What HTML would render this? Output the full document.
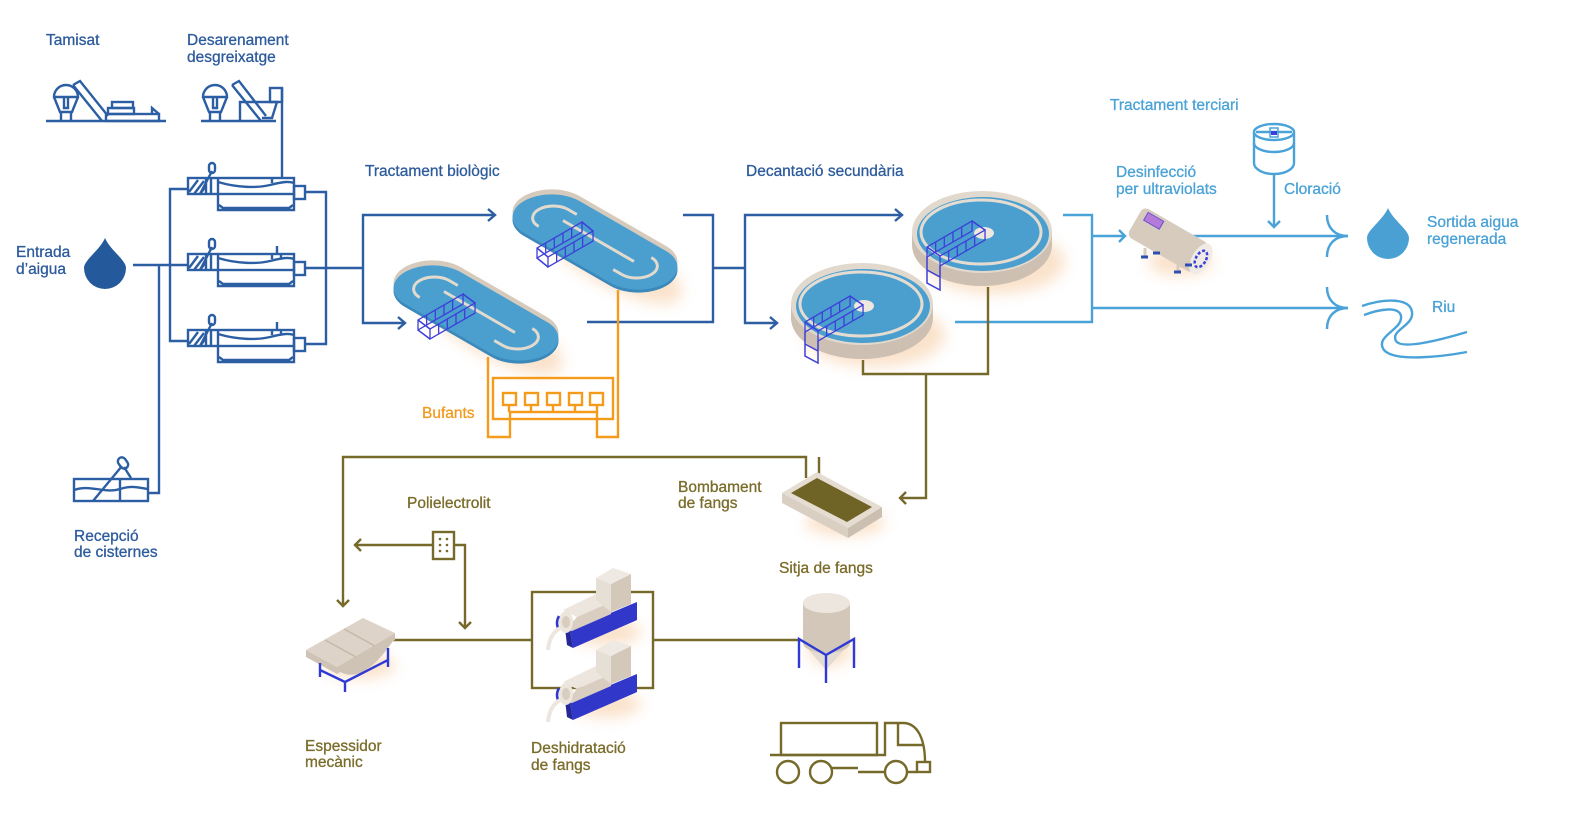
<!DOCTYPE html>
<html><head><meta charset="utf-8"><style>
html,body{margin:0;padding:0;background:#fff;}
svg{display:block;}
text{font-family:"Liberation Sans",sans-serif;font-size:15.5px;stroke-width:0.3px;}
</style></head><body>
<svg width="1575" height="819" viewBox="0 0 1575 819" xmlns="http://www.w3.org/2000/svg">
<defs>
<filter id="blur" x="-50%" y="-50%" width="200%" height="200%"><feGaussianBlur stdDeviation="7"/></filter>
</defs>
<rect width="1575" height="819" fill="#fff"/>

<!-- glows -->
<g filter="url(#blur)" fill="#f7cba0" opacity="0.55">
<ellipse cx="0" cy="0" rx="85" ry="28" transform="translate(607,255) rotate(30)"/>
<ellipse cx="0" cy="0" rx="85" ry="28" transform="translate(488,326) rotate(30)"/>
<ellipse cx="995" cy="262" rx="70" ry="32"/>
<ellipse cx="875" cy="335" rx="70" ry="32"/>
<ellipse cx="1180" cy="262" rx="32" ry="14"/>
<ellipse cx="845" cy="522" rx="40" ry="14"/>
<ellipse cx="606" cy="632" rx="35" ry="14"/>
<ellipse cx="606" cy="704" rx="35" ry="14"/>
<ellipse cx="360" cy="665" rx="35" ry="14"/>
<ellipse cx="830" cy="650" rx="22" ry="16"/>
</g>

<!-- ============ NAVY (pretreatment) ============ -->
<g fill="none" stroke="#2c5ea3" stroke-width="2.4">
<line x1="46" y1="121" x2="166" y2="121"/>
<path d="M54,97 A12,12 0 0 1 78,97 Z"/>
<path d="M54,97 L60,112 H72 L78,97"/>
<path d="M61,112 V121 M71,112 V121"/>
<path d="M64,97 V108 H68 V97"/>
<path d="M73,85 L80,81 L108,116 M73,85 L102,121"/>
<rect x="112" y="102" width="21" height="6"/>
<rect x="108" y="108" width="26" height="6"/>
<rect x="106" y="114" width="53" height="7"/>
<path d="M152,114 V108 L159,114"/>
<line x1="201" y1="121" x2="276" y2="121"/>
<path d="M203,97 A12,12 0 0 1 227,97 Z"/>
<path d="M203,97 L209,112 H221 L227,97"/>
<path d="M210,112 V121 M220,112 V121"/>
<path d="M213,97 V108 H217 V97"/>
<path d="M232,85 L239,81 L266,116 M232,85 L261,121"/>
<path d="M240,121 V102 H277 L272,118 H262"/>
<rect x="270" y="88" width="12" height="14"/>
<path d="M282,88 V178"/>

<g transform="translate(188,178)">
<rect x="0" y="0" width="106" height="16"/>
<path d="M30,16 V32 H106 V16"/>
<path d="M31,27 L35,30 H101 L105,27"/>
<path d="M18,0 V16 M23,0 V16 M30,0 V16"/>
<path d="M1,14 L10,2 M6,16 L16,3 M12,16 L18,8"/>
<path d="M12,16 L24,-7"/>
<rect x="21" y="-15" width="6" height="10" rx="3"/>
<path d="M30,4 C50,10 70,10 82,7 S100,3 106,5"/>
<path d="M84,0 V5"/>
<rect x="106" y="8" width="11" height="13"/>
</g>
<g transform="translate(188,254)">
<rect x="0" y="0" width="106" height="16"/>
<path d="M30,16 V32 H106 V16"/>
<path d="M31,27 L35,30 H101 L105,27"/>
<path d="M18,0 V16 M23,0 V16 M30,0 V16"/>
<path d="M1,14 L10,2 M6,16 L16,3 M12,16 L18,8"/>
<path d="M12,16 L24,-7"/>
<rect x="21" y="-15" width="6" height="10" rx="3"/>
<path d="M30,4 C50,10 70,10 82,7 S100,3 106,5"/>
<path d="M84,0 V5 M89,0 V-8 M93,0 V5"/>
<rect x="106" y="8" width="11" height="13"/>
</g>
<g transform="translate(188,330)">
<rect x="0" y="0" width="106" height="16"/>
<path d="M30,16 V32 H106 V16"/>
<path d="M31,27 L35,30 H101 L105,27"/>
<path d="M18,0 V16 M23,0 V16 M30,0 V16"/>
<path d="M1,14 L10,2 M6,16 L16,3 M12,16 L18,8"/>
<path d="M12,16 L24,-7"/>
<rect x="21" y="-15" width="6" height="10" rx="3"/>
<path d="M30,4 C50,10 70,10 82,7 S100,3 106,5"/>
<path d="M84,0 V5 M89,0 V-8 M93,0 V5"/>
<rect x="106" y="8" width="11" height="13"/>
</g>

<path d="M188,189 H170 V341 H188"/>
<path d="M133,265 H188"/>
<path d="M148,493 H159 V265"/>
<path d="M305,192 H326 V344 H305"/>
<path d="M305,268 H363"/>

<rect x="74" y="479" width="74" height="22"/>
<path d="M120,479 V501"/>
<path d="M74,490 C90,484 105,494 120,489 C132,485 140,488 148,489"/>
<path d="M93,501 L122,466"/>
<rect x="119" y="457" width="8" height="12" rx="4" transform="rotate(-35 123 463)"/>
<path d="M124,467 L131,478"/>

<path d="M495,215 H363 V323 H405"/>
<path d="M488,209 L495,215 L488,221"/>
<path d="M398,317 L405,323 L398,329"/>
<path d="M683,215 H713 V322 H587"/>
<path d="M713,268 H745"/>
<path d="M902,215 H745 V323 H777"/>
<path d="M895,209 L902,215 L895,221"/>
<path d="M770,317 L777,323 L770,329"/>
</g>

<path d="M105,238 C100,250 84,260 84,268 A21,21 0 0 0 126,268 C126,260 110,250 105,238 Z" fill="#245a9c"/>

<!-- ============ BIO TANKS ============ -->
<g transform="translate(595,237)">
<g transform="matrix(0.866,0.5,-0.866,0.5,0,0)"><rect x="-82" y="-32" width="164" height="64" rx="32" fill="#d6cabd"/></g>
</g>
<g transform="translate(595,245)">
<g transform="matrix(0.866,0.5,-0.866,0.5,0,0)"><rect x="-82" y="-32" width="164" height="64" rx="32" fill="#3b88bb"/></g>
</g>
<g transform="translate(595,242)">
<g transform="matrix(0.866,0.5,-0.866,0.5,0,0)">
<rect x="-82" y="-32" width="164" height="64" rx="32" fill="#4a9fcf"/>
<g fill="none" stroke="#e3dace" stroke-width="3">
<path d="M-38,-17 H-48 A17,17 0 0 0 -48,17" vector-effect="non-scaling-stroke"/>
<path d="M38,17 H48 A17,17 0 0 0 48,-17" vector-effect="non-scaling-stroke"/>
<path d="M-40,-3 H42" vector-effect="non-scaling-stroke"/>
</g>
</g>
</g>

<g transform="translate(476,308)">
<g transform="matrix(0.866,0.5,-0.866,0.5,0,0)"><rect x="-82" y="-32" width="164" height="64" rx="32" fill="#d6cabd"/></g>
</g>
<g transform="translate(476,316)">
<g transform="matrix(0.866,0.5,-0.866,0.5,0,0)"><rect x="-82" y="-32" width="164" height="64" rx="32" fill="#3b88bb"/></g>
</g>
<g transform="translate(476,313)">
<g transform="matrix(0.866,0.5,-0.866,0.5,0,0)">
<rect x="-82" y="-32" width="164" height="64" rx="32" fill="#4a9fcf"/>
<g fill="none" stroke="#e3dace" stroke-width="3">
<path d="M-38,-17 H-48 A17,17 0 0 0 -48,17" vector-effect="non-scaling-stroke"/>
<path d="M38,17 H48 A17,17 0 0 0 48,-17" vector-effect="non-scaling-stroke"/>
<path d="M-40,-3 H42" vector-effect="non-scaling-stroke"/>
</g>
</g>
</g>

<g fill="none" stroke="#3d3fd9" stroke-width="1.5">
<g transform="matrix(0.866,-0.5,0,1,537,248)"><rect x="0" y="0" width="52" height="10"/><path d="M10,0V10M20,0V10M30,0V10M40,0V10"/></g>
<g transform="matrix(0.866,-0.5,0,1,548,257)"><rect x="0" y="0" width="52" height="10"/><path d="M10,0V10M20,0V10M30,0V10M40,0V10"/></g>
<path d="M537,248 L548,257 M537,258 L548,267 M582,222 L593,231"/>
<g transform="matrix(0.866,-0.5,0,1,418,320)"><rect x="0" y="0" width="52" height="10"/><path d="M10,0V10M20,0V10M30,0V10M40,0V10"/></g>
<g transform="matrix(0.866,-0.5,0,1,430,329)"><rect x="0" y="0" width="52" height="10"/><path d="M10,0V10M20,0V10M30,0V10M40,0V10"/></g>
<path d="M418,320 L430,329 M418,330 L430,339 M463,294 L475,303"/>
</g>

<!-- ============ DECANTERS ============ -->
<path d="M912,232 V245 A70,41 0 0 0 1052,245 V232 Z" fill="#cdbfb1"/>
<ellipse cx="982" cy="232" rx="70" ry="41" fill="#e2d9ce"/>
<ellipse cx="983" cy="234" rx="66" ry="37" fill="#4a9fcf"/>
<ellipse cx="981" cy="232" rx="60" ry="32" fill="none" stroke="#e5dcd1" stroke-width="3"/>
<ellipse cx="984" cy="233" rx="10" ry="6" fill="#eee8e1"/>

<path d="M791,304 V318 A71,41 0 0 0 933,318 V304 Z" fill="#cdbfb1"/>
<ellipse cx="862" cy="304" rx="71" ry="41" fill="#e2d9ce"/>
<ellipse cx="863" cy="306" rx="67" ry="37" fill="#4a9fcf"/>
<ellipse cx="861" cy="304" rx="61" ry="32" fill="none" stroke="#e5dcd1" stroke-width="3"/>
<ellipse cx="864" cy="306" rx="10" ry="6" fill="#eee8e1"/>

<g fill="none" stroke="#3d3fd9" stroke-width="1.5">
<g transform="matrix(0.866,-0.5,0,1,927,247)"><rect x="0" y="0" width="52" height="10"/><path d="M10,0V10M20,0V10M30,0V10M40,0V10"/></g>
<g transform="matrix(0.866,-0.5,0,1,940,256)"><rect x="0" y="0" width="52" height="10"/><path d="M10,0V10M20,0V10M30,0V10M40,0V10"/></g>
<path d="M927,247 L940,256 M972,221 L985,230"/>
<path d="M927,257 V283 L940,290 V266 M927,270 L940,277"/>
<g transform="matrix(0.866,-0.5,0,1,805,322)"><rect x="0" y="0" width="52" height="10"/><path d="M10,0V10M20,0V10M30,0V10M40,0V10"/></g>
<g transform="matrix(0.866,-0.5,0,1,818,331)"><rect x="0" y="0" width="52" height="10"/><path d="M10,0V10M20,0V10M30,0V10M40,0V10"/></g>
<path d="M805,322 L818,331 M850,296 L863,305"/>
<path d="M805,332 V356 L818,363 V341 M805,344 L818,351"/>
</g>

<!-- ============ ORANGE ============ -->
<g fill="none" stroke="#f49b1c" stroke-width="2.4">
<path d="M488,357 V437 H510 V412"/>
<rect x="493" y="378" width="120" height="41"/>
<rect x="503" y="393" width="13" height="12"/>
<rect x="525" y="393" width="13" height="12"/>
<rect x="547" y="393" width="13" height="12"/>
<rect x="569" y="393" width="13" height="12"/>
<rect x="590" y="393" width="13" height="12"/>
<path d="M509,405 V412 M531,405 V412 M553,405 V412 M575,405 V412 M597,405 V412"/>
<path d="M510,412 H597 V437 H618 V290"/>
</g>

<!-- ============ LIGHT BLUE ============ -->
<g fill="none" stroke="#4aa3d8" stroke-width="2.4">
<path d="M1063,215 H1092 V322 H955"/>
<path d="M1092,236 H1125"/>
<path d="M1119,230 L1125,236 L1119,242"/>
<path d="M1092,308 H1348"/>
<path d="M1190,236 H1348"/>
<path d="M1327,215 C1327,228 1335,236 1348,236 C1335,236 1327,244 1327,257"/>
<path d="M1327,287 C1327,300 1335,308 1348,308 C1335,308 1327,316 1327,329"/>
<path d="M1274,175 V227"/>
<path d="M1268,221 L1274,227 L1280,221"/>
<path d="M1254,132 V163 A20,11 0 0 0 1294,163 V132" fill="#fff"/>
<ellipse cx="1274" cy="132" rx="20" ry="8" fill="#fff"/>
<path d="M1254,143 A20,9 0 0 0 1294,143"/>
<path d="M1256,132 H1292"/>
<rect x="1270" y="128" width="8" height="9" stroke-width="1.5"/>
<path d="M1362,306 C1385,298 1410,298 1412,312 C1414,326 1390,330 1396,341 C1402,350 1440,340 1467,332"/>
<path d="M1364,315 C1380,309 1399,306 1401,316 C1403,330 1374,336 1384,350 C1394,362 1440,357 1467,352"/>
</g>
<rect x="1271" y="131" width="6" height="4" fill="#3d3fd9"/>
<path d="M1388,208 C1383,220 1367,230 1367,238 A21,21 0 0 0 1409,238 C1409,230 1393,220 1388,208 Z" fill="#4aa0d3"/>

<g transform="translate(1168,240) rotate(30)">
<rect x="-38" y="-17" width="76" height="34" rx="6" fill="#d7cbbe"/>
<ellipse cx="38" cy="0" rx="9" ry="17" fill="#f0ebe5"/>
<ellipse cx="38" cy="0" rx="5" ry="9" fill="none" stroke="#3d3fd9" stroke-width="2.5" stroke-dasharray="3,2"/>
<rect x="-31" y="-14" width="18" height="9" fill="#b57bd8" stroke="#6a4fd0" stroke-width="1"/>
</g>
<g stroke="#d7cbbe" stroke-width="3"><path d="M1145,248 V256 M1157,244 V252 M1178,262 V271 M1189,256 V264"/></g>
<g stroke="#2c4fb0" stroke-width="3"><path d="M1141,257 H1148 M1153,253 H1160 M1174,272 H1181 M1185,265 H1192"/></g>

<!-- ============ OLIVE ============ -->
<g fill="none" stroke="#766a2a" stroke-width="2.4">
<path d="M863,360 V374 H988 V287"/>
<path d="M926,374 V498 H900"/>
<path d="M906,492 L900,498 L906,504"/>
<path d="M806,478 V457 H343 V606"/>
<path d="M819,457 V474"/>
<path d="M337,600 L343,606 L349,600"/>
<rect x="433" y="532" width="21" height="27"/>
<path d="M433,545 H355"/>
<path d="M361,539 L355,545 L361,551"/>
<path d="M454,545 H465 V628"/>
<path d="M459,622 L465,628 L471,622"/>
<path d="M393,640 H532"/>
<rect x="532" y="592" width="121" height="96"/>
<path d="M653,640 H799"/>
<rect x="781" y="723" width="96" height="32"/>
<path d="M770,755 H885 V723 H903 C918,723 925,740 925,762"/>
<path d="M898,723 V745 H923"/>
<rect x="917" y="762" width="13" height="10"/>
<circle cx="788" cy="772" r="11"/>
<circle cx="821" cy="772" r="11"/>
<circle cx="896" cy="772" r="11"/>
<path d="M832,768 H858 M858,772 H885 M907,772 H917"/>
</g>
<g fill="#766a2a"><circle cx="440" cy="539" r="1.3"/><circle cx="447" cy="539" r="1.3"/><circle cx="440" cy="545" r="1.3"/><circle cx="447" cy="545" r="1.3"/><circle cx="440" cy="551" r="1.3"/><circle cx="447" cy="551" r="1.3"/></g>

<polygon points="782,493 848,528 848,538 782,503" fill="#d9cfc3"/>
<polygon points="848,528 882,507 882,517 848,538" fill="#cbbfb1"/>
<polygon points="782,493 817,472 882,507 848,528" fill="#e6ddd2"/>
<polygon points="791,493 817,478 872,507 847,522" fill="#6f6326"/>

<path d="M337,670 Q362,688 395,638 Z" fill="#cfc3b5"/>
<polygon points="306,650 337,667 395,633 395,640 337,674 306,657" fill="#cfc3b5"/>
<polygon points="306,650 363,618 395,633 337,667" fill="#ddd3c8"/>
<path d="M325,640 L356,657 M344,629 L375,646" stroke="#c6b9aa" stroke-width="1.5"/>
<g fill="none" stroke="#2f3ad6" stroke-width="2.4">
<path d="M320,663 V677 M320,670 L345,682 L388,660 M345,682 V692 M388,648 V667"/>
</g>

<!-- dewatering machines -->
<g>
<polygon points="570,630 637,602 637,620 573,648" fill="#3137c9"/>
<polygon points="565,628 570,630 573,648 567,645" fill="#232896"/>
<polygon points="563,610 596,594 611,602 577,617" fill="#ece6de"/>
<polygon points="577,617 611,602 611,614 572,631 566,630" fill="#d9cec1"/>
<polygon points="596,578 611,584 611,612 596,600" fill="#e6dfd5"/>
<polygon points="611,584 631,574 631,604 611,612" fill="#d4c8ba"/>
<polygon points="596,578 613,568 631,574 611,584" fill="#eee9e2"/>
<ellipse cx="566" cy="622" rx="7" ry="11" fill="#ebe5dc"/>
<ellipse cx="566" cy="622" rx="4" ry="6" fill="#d8cdbf"/>
<path d="M559,616 Q555,623 559,630" stroke="#3137c9" stroke-width="2.5" fill="none"/>
<path d="M562,627 C552,632 549,640 548,650" stroke="#ece6de" stroke-width="4" fill="none"/>
</g>
<g transform="translate(0,72)">
<polygon points="570,630 637,602 637,620 573,648" fill="#3137c9"/>
<polygon points="565,628 570,630 573,648 567,645" fill="#232896"/>
<polygon points="563,610 596,594 611,602 577,617" fill="#ece6de"/>
<polygon points="577,617 611,602 611,614 572,631 566,630" fill="#d9cec1"/>
<polygon points="596,578 611,584 611,612 596,600" fill="#e6dfd5"/>
<polygon points="611,584 631,574 631,604 611,612" fill="#d4c8ba"/>
<polygon points="596,578 613,568 631,574 611,584" fill="#eee9e2"/>
<ellipse cx="566" cy="622" rx="7" ry="11" fill="#ebe5dc"/>
<ellipse cx="566" cy="622" rx="4" ry="6" fill="#d8cdbf"/>
<path d="M559,616 Q555,623 559,630" stroke="#3137c9" stroke-width="2.5" fill="none"/>
<path d="M562,627 C552,632 549,640 548,650" stroke="#ece6de" stroke-width="4" fill="none"/>
</g>

<path d="M803,643 L826,670 L850,643 Z" fill="#e3dcd2"/>
<path d="M803,603 V643 A23.5,10 0 0 0 850,643 V603 Z" fill="#d3c7b9"/>
<ellipse cx="826.5" cy="603" rx="23.5" ry="10" fill="#ece6de"/>
<g fill="none" stroke="#2f3ad6" stroke-width="2.4">
<path d="M799,668 V639 L826,655 L854,639 V668 M826,655 V683"/>
</g>

<!-- ============ LABELS ============ -->
<g fill="#2d5b9c" stroke="#2d5b9c">
<text x="46" y="45">Tamisat</text>
<text x="187" y="45">Desarenament</text>
<text x="187" y="62">desgreixatge</text>
<text x="16" y="257">Entrada</text>
<text x="16" y="274">d’aigua</text>
<text x="74" y="541">Recepció</text>
<text x="74" y="557">de cisternes</text>
<text x="365" y="176">Tractament biològic</text>
<text x="746" y="176">Decantació secundària</text>
</g>
<g fill="#4aa2d6" stroke="#4aa2d6">
<text x="1110" y="110">Tractament terciari</text>
<text x="1116" y="177">Desinfecció</text>
<text x="1116" y="194">per ultraviolats</text>
<text x="1284" y="194">Cloració</text>
<text x="1427" y="227">Sortida aigua</text>
<text x="1427" y="244">regenerada</text>
<text x="1432" y="312">Riu</text>
</g>
<text x="422" y="418" fill="#f39a1e" stroke="#f39a1e">Bufants</text>
<g fill="#7a6c2a" stroke="#7a6c2a">
<text x="407" y="508">Polielectrolit</text>
<text x="678" y="492">Bombament</text>
<text x="678" y="508">de fangs</text>
<text x="779" y="573">Sitja de fangs</text>
<text x="305" y="751">Espessidor</text>
<text x="305" y="767">mecànic</text>
<text x="531" y="753">Deshidratació</text>
<text x="531" y="770">de fangs</text>
</g>
</svg>
</body></html>
